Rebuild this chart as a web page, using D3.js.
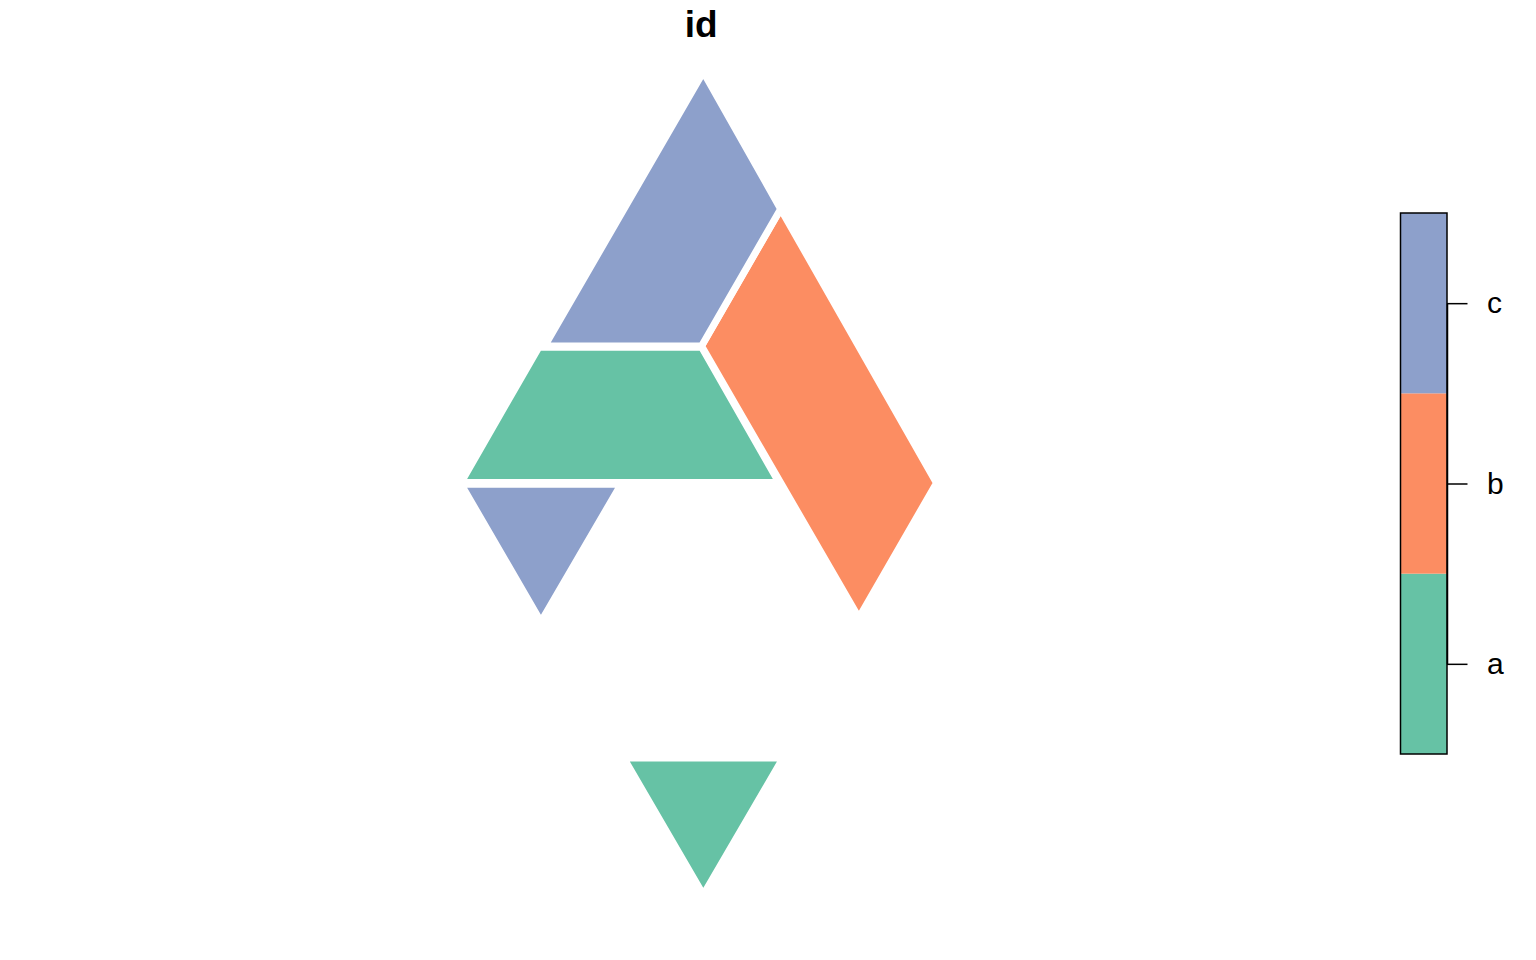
<!DOCTYPE html>
<html>
<head>
<meta charset="utf-8">
<script src="https://cdn.jsdelivr.net/npm/d3@7"></script>
<style>
  body { margin: 0; background: #fff; }
  svg { display: block; font-family: "Liberation Sans", Arial, Helvetica, sans-serif; }
</style>
</head>
<body>
<svg id="chart" width="1536" height="960"></svg>
<script>
// categories and their fill colours (Set2)
const ids = ['a', 'b', 'c'];
const fills = ['#66C2A5', '#FC8D62', '#8DA0CB'];

// polygon rings per id, map units (triangle side ~ 1)
const ringsA = [
  [[-1.040, 3.463], [-0.011, 3.463], [0.478, 2.607], [-1.532, 2.607]],
  [[-0.503, 0.864], [0.504, 0.864], [0, 0]]
];
const ringsB = [
  [[0.489, 4.337], [1.475, 2.604], [0.984, 1.751], [-0.011, 3.470]]
];
const ringsC = [
  [[0, 5.203], [0.489, 4.337], [-0.011, 3.470], [-1.003, 3.470]],
  [[-1.532, 2.596], [-0.520, 2.596], [-1.027, 1.726]]
];

const title = 'id';

const features = [
  { id: ids[0], rings: ringsA },
  { id: ids[1], rings: ringsB },
  { id: ids[2], rings: ringsC }
];

const svg = d3.select('#chart');

// map panel (left part), legend on the right
const panel = { left: 0, right: 1397.6, top: 39.1, bottom: 927.6 };

const allPts = features.flatMap(f => f.rings.flat());
let [x0, x1] = d3.extent(allPts, d => d[0]);
let [y0, y1] = d3.extent(allPts, d => d[1]);
// 4% padding like base R
const px = (x1 - x0) * 0.04, py = (y1 - y0) * 0.04;
x0 -= px; x1 += px; y0 -= py; y1 += py;

// same units per pixel on both axes (asp = 1)
const pw = panel.right - panel.left, ph = panel.bottom - panel.top;
const k = Math.min(pw / (x1 - x0), ph / (y1 - y0));
const cx = (panel.left + panel.right) / 2, cy = (panel.top + panel.bottom) / 2;
const mx = (x0 + x1) / 2, my = (y0 + y1) / 2;

const scaleX = d3.scaleLinear()
  .domain([x0, x1])
  .range([cx - (mx - x0) * k, cx + (x1 - mx) * k]);
const scaleY = d3.scaleLinear()
  .domain([y0, y1])
  .range([cy + (my - y0) * k, cy - (y1 - my) * k]);

const color = d3.scaleOrdinal().domain(ids).range(fills);

const line = d3.line()
  .x(d => scaleX(d[0]))
  .y(d => scaleY(d[1]));

// polygons with thick white borders
svg.append('g')
  .selectAll('path')
  .data(features.flatMap(f => f.rings.map(r => ({ id: f.id, ring: r }))))
  .enter()
  .append('path')
  .attr('d', d => line(d.ring) + 'Z')
  .attr('fill', d => color(d.id))
  .attr('stroke', '#fff')
  .attr('stroke-width', 7)
  .attr('stroke-linejoin', 'round');

// title
svg.append('text')
  .attr('x', cx + 2.5)
  .attr('y', 36.5)
  .attr('text-anchor', 'middle')
  .style('font-size', '37px')
  .style('font-weight', 'bold')
  .text(title);

// legend key
const key = { left: 1400.5, right: 1447, top: 213, bottom: 754 };

const keyScale = d3.scaleBand()
  .domain(ids.slice().reverse())   // a at the bottom
  .range([key.top, key.bottom]);

const keyG = svg.append('g');

keyG.selectAll('rect')
  .data(ids)
  .enter()
  .append('rect')
  .attr('x', key.left)
  .attr('y', d => keyScale(d))
  .attr('width', key.right - key.left)
  .attr('height', keyScale.bandwidth())
  .attr('fill', d => color(d));

keyG.append('rect')
  .attr('x', key.left)
  .attr('y', key.top)
  .attr('width', key.right - key.left)
  .attr('height', key.bottom - key.top)
  .attr('fill', 'none')
  .attr('stroke', '#000')
  .attr('stroke-width', 1.5);

const keyAxis = d3.axisRight(d3.scalePoint()
    .domain(ids)
    .range([key.bottom - keyScale.bandwidth() / 2, key.top + keyScale.bandwidth() / 2]))
  .tickSize(20.5)
  .tickSizeOuter(0)
  .tickPadding(19.5);

const ax = keyG.append('g')
  .attr('transform', `translate(${key.right}, 0)`)
  .call(keyAxis);

ax.selectAll('line').attr('stroke', '#000').attr('stroke-width', 1.5);
ax.select('.domain').attr('stroke', '#000').attr('stroke-width', 1.5);
ax.selectAll('text')
  .attr('fill', '#000')
  .style('font-size', '30px')
  .style('font-family', '"Liberation Sans", Arial, Helvetica, sans-serif');
</script>
</body>
</html>
